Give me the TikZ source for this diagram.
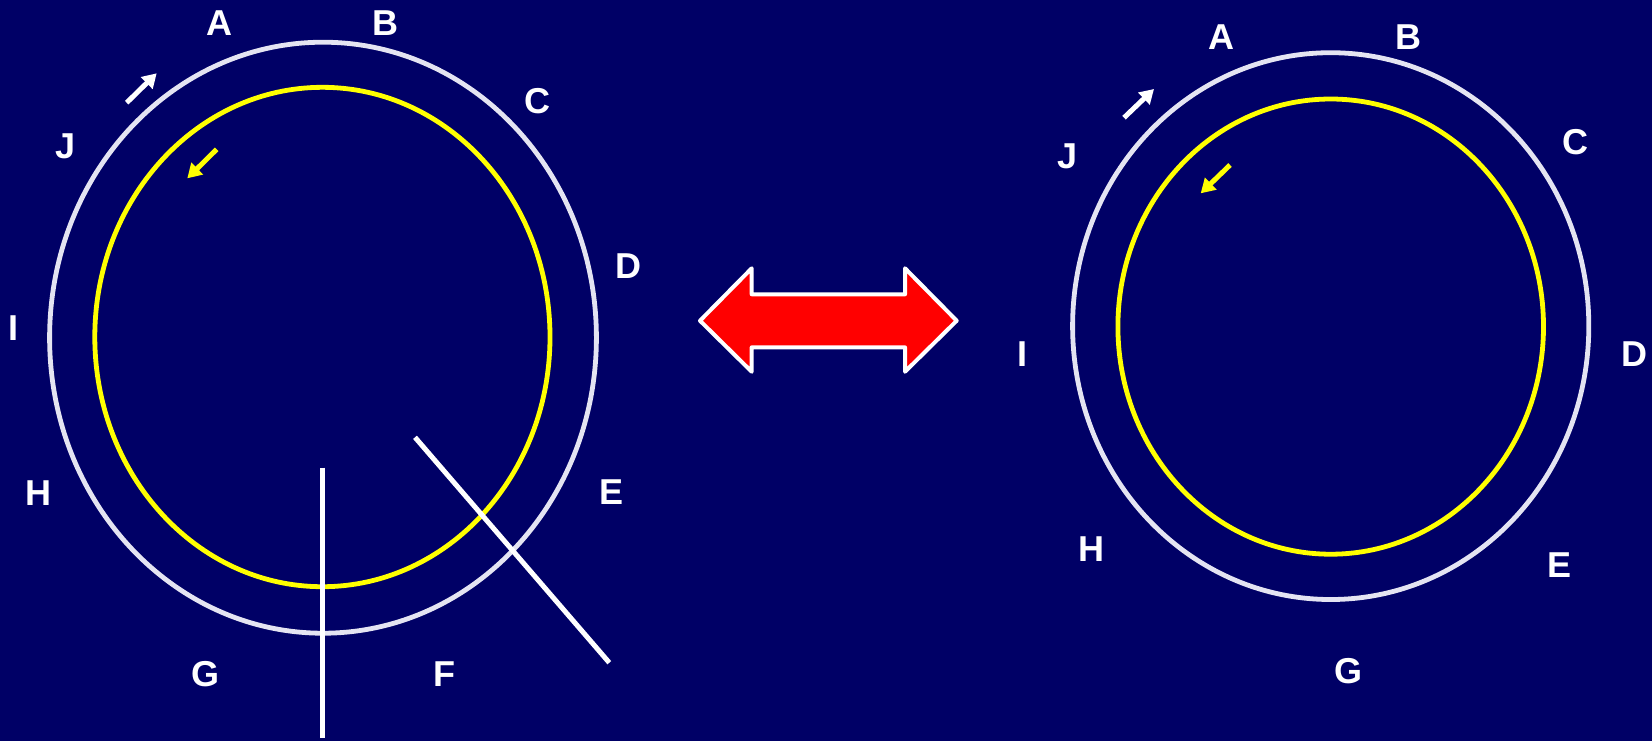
\documentclass[tikz,border=0pt]{standalone}
\usepackage{fontspec}
\setmainfont{Liberation Sans}
\usetikzlibrary{arrows.meta}
\definecolor{navy}{RGB}{0,0,102}
\definecolor{rimwhite}{RGB}{228,228,242}
\definecolor{ringyellow}{RGB}{255,255,0}
\tikzset{
  lbl/.style={text=white, font=\fontsize{18}{20}\selectfont\bfseries, inner sep=0pt},
  outerring/.style={draw=rimwhite, line width=2.4pt},
  innerring/.style={draw=ringyellow, line width=2.4pt},
  cutline/.style={draw=white, line width=2.5pt},
  spinarrow/.style={line width=2.5pt, -{Triangle[length=7pt, width=8pt]}}
}
\begin{document}
\begin{tikzpicture}[x=0.5pt, y=-0.5pt, line cap=butt, line join=round]
  \fill[navy] (0,0) rectangle (1652,741);
  \useasboundingbox (0,0) rectangle (1652,741);
  % left picture
  \draw[outerring] (323,337.7) ellipse [x radius=273.4, y radius=295.5];
  \draw[innerring] (322.4,337) ellipse [x radius=227.6, y radius=249.7];
  \draw[cutline] (322.7,467.7) -- (322.7,738);
  \draw[cutline] (415,437.3) -- (609.3,662.7);
  \draw[spinarrow, white] (126.7,102.7) -- (156.7,73.3);
  \draw[spinarrow, ringyellow] (216.7,149.3) -- (187.3,178.3);
  \node[lbl] (lA) at (219,23) {A};
  \node[lbl] (lB) at (385.6,23) {B};
  \node[lbl] (lC) at (537,101) {C};
  \node[lbl] (lD) at (628,266.6) {D};
  \node[lbl] (lE) at (611,492) {E};
  \node[lbl] (lF) at (444.6,674) {F};
  \node[lbl] (lG) at (205.4,674) {G};
  \node[lbl] (lH) at (38,493) {H};
  \node[lbl] (lI) at (13.7,327.7) {I};
  \node[lbl] (lJ) at (65.3,146.4) {J};
  % double arrow
  \filldraw[fill=red, draw=white, line width=2pt]
    (700,320.7) -- (751.7,268.3) -- (751.7,294.3) -- (905,294.3) -- (905,268.3)
    -- (956.7,320.7) -- (905,371.7) -- (905,347.3) -- (751.7,347.3) -- (751.7,371.7) -- cycle;
  % right picture
  \draw[outerring] (1330.7,326.1) ellipse [x radius=258.1, y radius=273.4];
  \draw[innerring] (1330.7,326.6) ellipse [x radius=212.8, y radius=227.6];
  \draw[spinarrow, white] (1124,117.7) -- (1154,89);
  \draw[spinarrow, ringyellow] (1230,165) -- (1200.7,193.3);
  \node[lbl] (rA) at (1221,36.9) {A};
  \node[lbl] (rB) at (1408.6,36.9) {B};
  \node[lbl] (rC) at (1575,142.2) {C};
  \node[lbl] (rD) at (1634,354) {D};
  \node[lbl] (rE) at (1559,564.7) {E};
  \node[lbl] (rG) at (1348.6,671) {G};
  \node[lbl] (rH) at (1091.5,549) {H};
  \node[lbl] (rI) at (1022,354) {I};
  \node[lbl] (rJ) at (1067,156) {J};
\end{tikzpicture}
\end{document}
